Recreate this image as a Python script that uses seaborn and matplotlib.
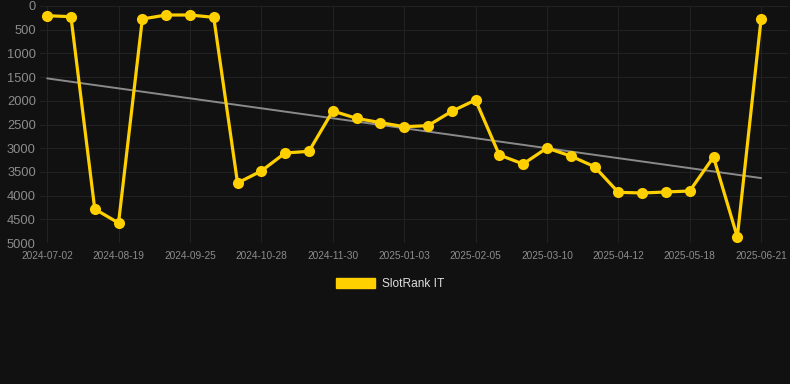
import numpy as np
import pandas as pd
import matplotlib
matplotlib.use("Agg")
import matplotlib.pyplot as plt
import seaborn as sns
from matplotlib.patches import Patch

# Data
tick_labels = ["2024-07-02", "2024-08-19", "2024-09-25", "2024-10-28", "2024-11-30",
               "2025-01-03", "2025-02-05", "2025-03-10", "2025-04-12", "2025-05-18",
               "2025-06-21"]
rank_values = [205, 225, 4283, 4578, 274, 190, 190, 239, 3734, 3481,
               3101, 3066, 2215, 2370, 2461, 2546, 2525, 2222, 1983, 3143,
               3333, 2996, 3165, 3390, 3931, 3945, 3924, 3903, 3186, 4873,
               268]
series_name = "SlotRank IT"

BG = "#111111"
YELLOW = "#FFD000"
GRID = "#222222"
TICK = "#8c8c8c"

sns.set_theme(style="dark")
plt.rcParams["font.family"] = ["Liberation Sans", "DejaVu Sans"]

idx = np.arange(len(rank_values))
df = pd.DataFrame({"idx": idx, "rank": rank_values})

fig = plt.figure(figsize=(7.9, 3.84), dpi=100, facecolor=BG)
ax = fig.add_axes([40/790, 1 - 243/384, (788-40)/790, (243-6)/384])
ax.set_facecolor(BG)

# trend line (linear regression)
coef = np.polyfit(idx, rank_values, 1)
trend = np.polyval(coef, idx)
sns.lineplot(x=idx, y=trend, ax=ax, color="#8a8a8a", linewidth=1.4, zorder=2)

sns.lineplot(data=df, x="idx", y="rank", ax=ax, color=YELLOW, linewidth=2.3,
             marker="o", markersize=8, markeredgewidth=0, zorder=3)

ax.set_ylim(5000, 0)
ax.set_xlim(-0.3, len(rank_values) - 1 + 1.13)
ax.set_yticks(np.arange(0, 5001, 500))
ax.set_yticklabels([str(v) for v in range(0, 5001, 500)], color=TICK, fontsize=9.3)
tick_pos = idx[::3]
ax.set_xticks(tick_pos)
ax.set_xticklabels(tick_labels, color=TICK, fontsize=7.3)
ax.tick_params(axis="y", length=0, pad=3)
ax.tick_params(axis="x", length=0, pad=6)
ax.grid(True, color=GRID, linewidth=0.8)
ax.set_axisbelow(True)
for s in ax.spines.values():
    s.set_visible(False)
ax.set_xlabel("")
ax.set_ylabel("")

handle = Patch(facecolor=YELLOW, edgecolor=YELLOW)
fig.legend([handle], [series_name], loc="center", bbox_to_anchor=(390/790, 1 - 284/384),
           frameon=False, fontsize=8.6, labelcolor="#dddddd",
           handlelength=3.3, handleheight=0.9, handletextpad=0.55)

fig.savefig("out.png", dpi=100, facecolor=BG)
